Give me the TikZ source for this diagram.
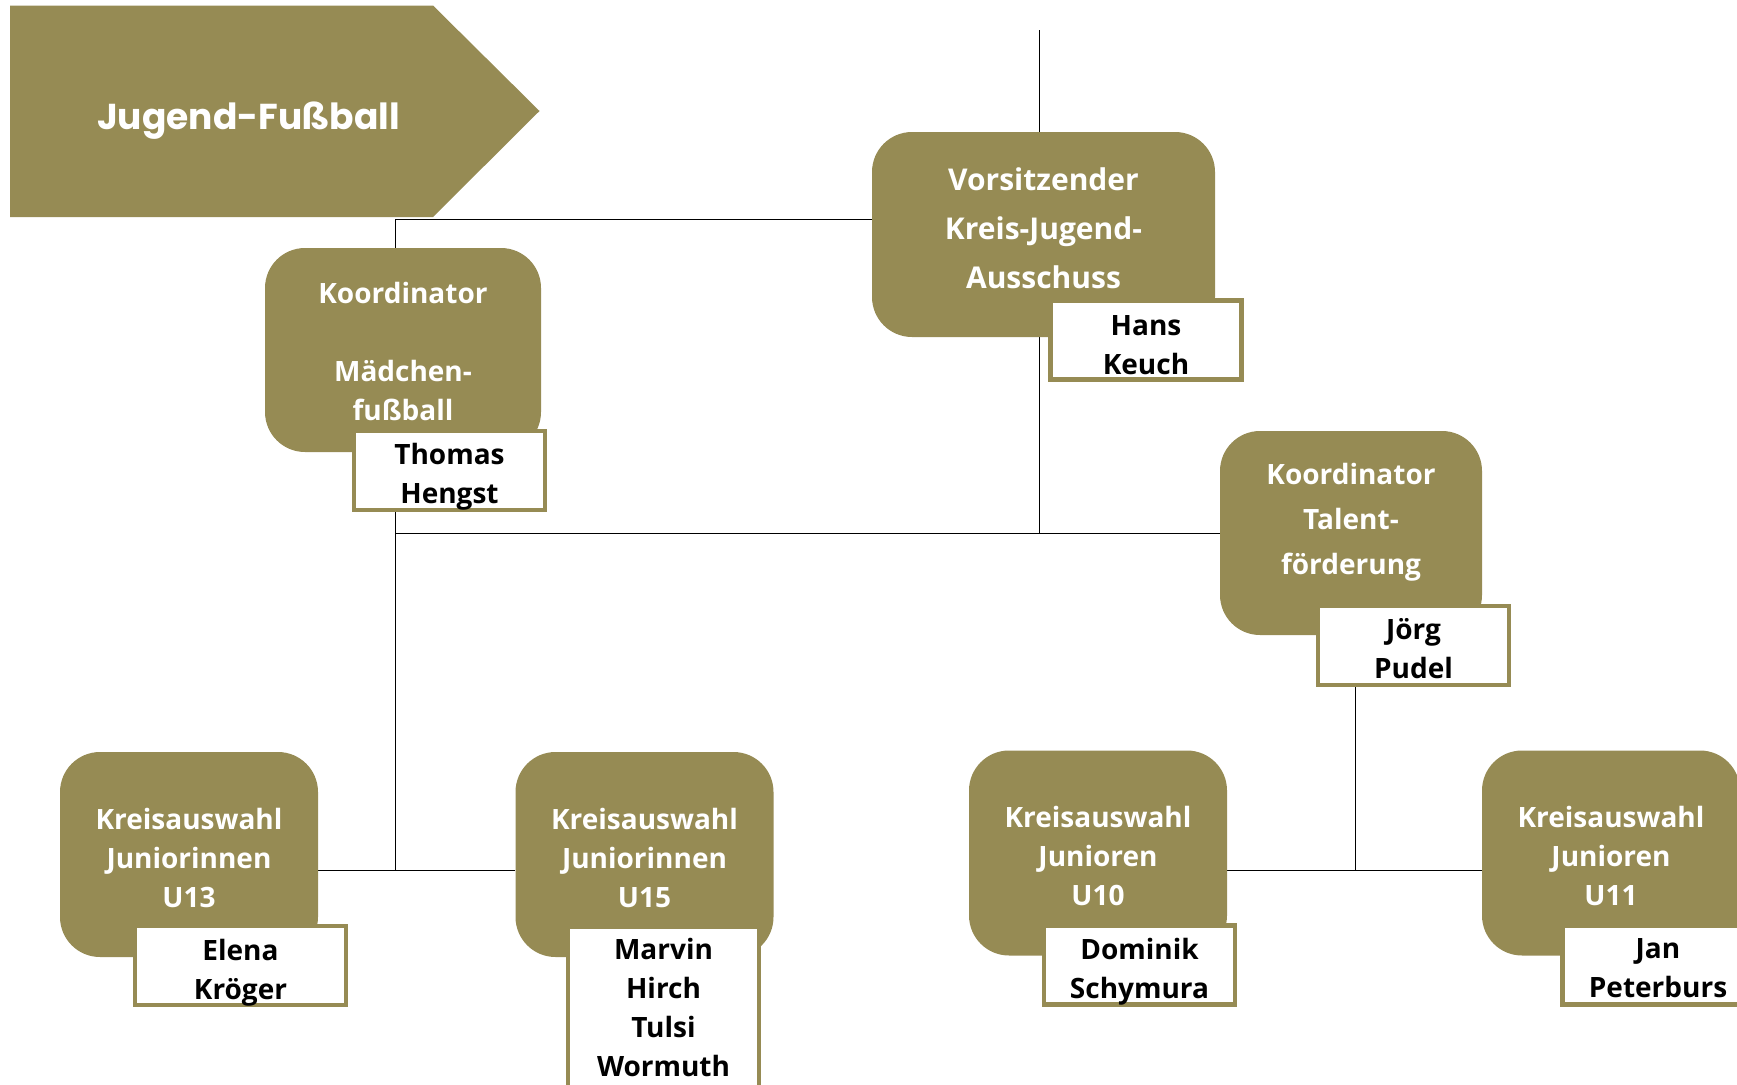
\documentclass[tikz,border=0pt]{standalone}
\usepackage{fontspec}
\setmainfont{Open Sans}
\newfontfamily\ttlfont{Poppins}
\usetikzlibrary{positioning,backgrounds}
\definecolor{fbgold}{RGB}{150,139,84}

\begin{document}
\begin{tikzpicture}[x=1pt,y=-1pt,
 org/.style={fill=fbgold,rounded corners=40pt,minimum width=258pt,minimum height=205pt,inner sep=0pt},
 orgtxt/.style={text=white,font=\bfseries\fontsize{28}{39}\selectfont,align=center,inner sep=0pt},
 namebox/.style={draw=fbgold,line width=4.5pt,fill=white,minimum width=191pt,minimum height=79pt,inner sep=0pt},
 nametxt/.style={font=\bfseries\fontsize{28}{39}\selectfont,align=center,inner sep=0pt},
 link/.style={line width=3pt}]
 \useasboundingbox (0,0) rectangle (1737,1084);
 \clip (0,0) rectangle (1737,1084);

 \fill[fbgold] (10,5.5) -- (433,5.5) -- (539.5,111) -- (433,217) -- (10,217) -- cycle;
 \node[anchor=base,text=white,font=\ttlfont\bfseries\fontsize{36}{40}\selectfont] (title) at (248.5,129.5) {Jugend-Fußball};

 \node[org,minimum width=343pt] (vors) at (1043.5,234.5) {};
 \node[orgtxt,font=\bfseries\fontsize{30}{49}\selectfont] (tvors) at ([yshift=6.5pt]vors.center) {Vorsitzender\\Kreis-Jugend-\\Ausschuss};
 \node[namebox] (keuch) at (1146,340) {};
 \node[nametxt] (tkeuch) at ([yshift=-5pt]keuch.center) {Hans\\Keuch};

 \node[org,minimum width=276pt,minimum height=204pt] (maed) at (403,350) {};
 \node[orgtxt] (tmaed) at ([yshift=-1pt]maed.center) {Koordinator\\[39pt]Mädchen-\\fußball};
 \node[namebox] (hengst) at (449.5,470.5) {};
 \node[nametxt] (thengst) at ([yshift=-6pt]hengst.center) {Thomas\\Hengst};

 \node[org,minimum width=262pt,minimum height=204pt] (tal) at (1351,533) {};
 \node[orgtxt,font=\bfseries\fontsize{28}{45}\selectfont] (ttal) at ([yshift=11pt]tal.center) {Koordinator\\Talent-\\förderung};
 \node[namebox] (pudel) at (1413.5,645.5) {};
 \node[nametxt] (tpudel) at ([yshift=-3pt]pudel.center) {Jörg\\Pudel};

 \node[org] (u13) at (189,854.5) {};
 \node[orgtxt] (tu13) at ([yshift=-3pt]u13.center) {Kreisauswahl\\Juniorinnen\\U13};
 \node[namebox,minimum width=211pt] (kroeger) at (240.5,965.5) {};
 \node[nametxt] (tkroeger) at ([yshift=-7pt]kroeger.center) {Elena\\Kröger};

 \node[org] (u15) at (644.5,854.5) {};
 \node[orgtxt] (tu15) at ([yshift=-3pt]u15.center) {Kreisauswahl\\Juniorinnen\\U15};
 \node[namebox,minimum height=161pt] (wormuth) at (663.5,1007.5) {};
 \node[nametxt] (twormuth) at (wormuth) {Marvin\\Hirch\\Tulsi\\Wormuth};

 \node[org] (u10) at (1098,853) {};
 \node[orgtxt] (tu10) at ([yshift=-3pt]u10.center) {Kreisauswahl\\Junioren\\U10};
 \node[namebox] (schymura) at (1139.5,965) {};
 \node[nametxt] (tschymura) at ([yshift=-7pt]schymura.center) {Dominik\\Schymura};

 \node[org] (u11) at (1611,853) {};
 \node[orgtxt] (tu11) at ([yshift=-3pt]u11.center) {Kreisauswahl\\Junioren\\U11};
 \node[namebox] (peterburs) at (1658,965) {};
 \node[nametxt] (tpeterburs) at ([yshift=-3pt]peterburs.center) {Jan\\Peterburs};

 \coordinate (top) at (1039,30);
 \coordinate (j1) at (395,219);
 \coordinate (j2) at (395,870);
 \coordinate (j3) at (1355,870);

 \begin{scope}[on background layer,link]
 \draw (top) -- (top |- vors.north);
 \draw (vors.west |- j1) -- (j1) -- (j2);
 \draw (top |- vors.south) -- (top |- tal.west);
 \draw (j1 |- tal.west) -- (tal.west);
 \draw (u13.east |- j2) -- (u15.west |- j2);
 \draw (j3 |- tal.south) -- (j3);
 \draw (u10.east |- j3) -- (u11.west |- j3);
 \end{scope}
\end{tikzpicture}
\end{document}
